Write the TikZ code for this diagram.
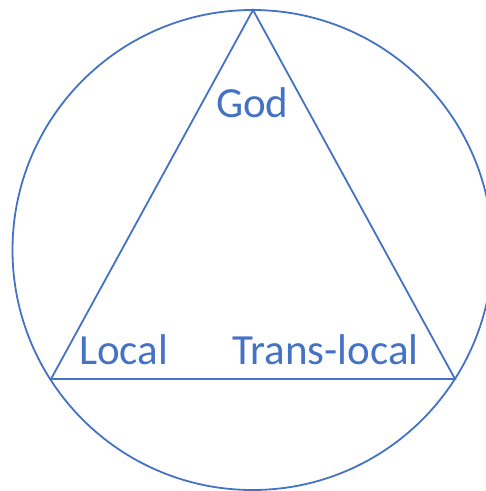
\documentclass[tikz,border=0pt]{standalone}
\usepackage{fontspec}
\setmainfont{Carlito}
\definecolor{officeblue}{RGB}{68,114,196}
\begin{document}
\begin{tikzpicture}[x=1pt,y=-1pt,
  shape line/.style={draw=officeblue,line width=1.8pt,line join=miter},
  label text/.style={text=officeblue,font=\fontsize{43}{43}\selectfont,inner sep=0pt,anchor=base west}]
\useasboundingbox (0,0) rectangle (486,491);
\coordinate (c) at (252.5,250);
\draw[shape line] (c) circle[radius=240];
\coordinate (top) at (253,10);
\coordinate (bl) at (51,379);
\coordinate (br) at (455,379);
\draw[shape line] (top) -- (bl) -- (br) -- cycle;
\node[label text] (god) at (216,117) {God};
\node[label text] (local) at (79,364) {Local};
\node[label text] (trans) at (232,364) {Trans-local};
\end{tikzpicture}
\end{document}
